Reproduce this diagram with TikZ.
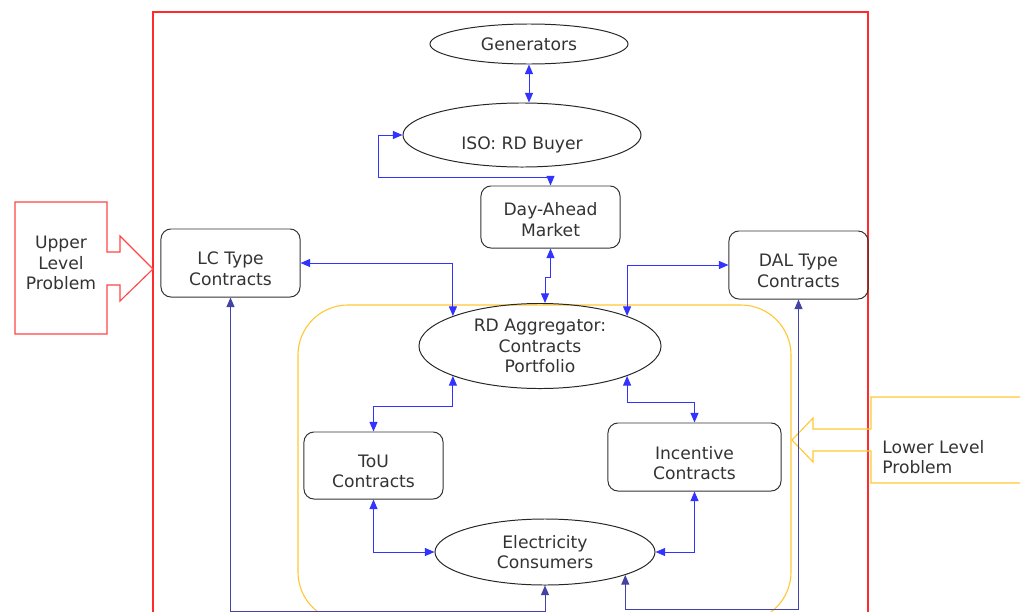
\documentclass[tikz,border=0pt]{standalone}
\usepackage{fontspec}
\setmainfont{DejaVu Sans}
\usetikzlibrary{shapes.geometric,arrows.meta}
\definecolor{linkblue}{HTML}{3333FF}
\definecolor{navyblue}{HTML}{4343A6}
\definecolor{framered}{HTML}{FF2A2A}
\definecolor{calloutred}{HTML}{FF4545}
\definecolor{lowyellow}{HTML}{FFC835}
\definecolor{textgray}{HTML}{333333}
\begin{document}
\begin{tikzpicture}[x=0.025cm,y=-0.025cm,
  every node/.style={font=\fontsize{12.2}{14.6}\selectfont,text=textgray,align=center,inner sep=0pt},
  oval/.style={ellipse,draw=black!85,line width=0.7pt},
  box/.style={rectangle,rounded corners=0.25cm,draw=black!80,line width=0.7pt,minimum width=3.475cm,minimum height=1.7cm},
  boxtext/.style={label={[yshift=-0.15cm]center:{#1}}},
  link/.style={draw=linkblue,line width=0.7pt,{Triangle[length=2.4mm,width=2mm]}-{Triangle[length=2.4mm,width=2mm]}},
  slink/.style={link,draw=navyblue}]
\useasboundingbox (0,0) rectangle (1020,612);
\clip (0,0) rectangle (1020,612);
\draw[framered,line width=0.8pt] (153,12) rectangle (868,640);
\draw[lowyellow,line width=0.8pt,rounded corners=1.25cm] (298,305) rectangle (791,622);
\draw[calloutred,line width=0.8pt] (15,202) -- (107,202) -- (107,252) -- (120,252) -- (120,236) -- (153,269) -- (120,301) -- (120,285) -- (107,285) -- (107,334) -- (15,334) -- cycle;
\node (upper) at (61,263) {Upper\\Level\\Problem};
\draw[lowyellow,line width=0.8pt] (1030,397) -- (871,397) -- (871,429) -- (813,429) -- (813,418) -- (792,440) -- (813,462) -- (813,451) -- (871,451) -- (871,483) -- (1030,483);
\node[anchor=west,align=left] (lower) at (882,457) {Lower Level\\Problem};
\node[oval,minimum width=4.95cm,minimum height=1cm] (gen) at (529,44) {Generators};
\node[oval,minimum width=5.95cm,minimum height=1.6cm,label={[yshift=-0.25cm]center:{ISO: RD Buyer}}] (iso) at (522,135) {};
\node[box,minimum height=1.55cm,label={[yshift=-0.06cm]center:{Day-Ahead\\Market}}] (dam) at (550.5,217) {};
\node[box,boxtext={LC Type\\Contracts}] (lc) at (230.5,263) {};
\node[box,boxtext={DAL Type\\Contracts}] (dal) at (798.5,265) {};
\node[oval,minimum width=6.05cm,minimum height=2.125cm] (agg) at (540,346) {RD Aggregator:\\Contracts\\Portfolio};
\node[box,minimum height=1.675cm,boxtext={ToU\\Contracts}] (tou) at (373.5,465.5) {};
\node[box,minimum width=4.325cm,boxtext={Incentive\\Contracts}] (inc) at (694.5,457) {};
\node[oval,minimum width=5.5cm,minimum height=1.65cm] (cons) at (545,552) {Electricity\\Consumers};
\coordinate (isobend) at (378,177);
\coordinate (damjog) at (545,277);
\coordinate (floor) at (0,611);
\coordinate (floorr) at (0,609);
\draw[link] (gen.south) -- (gen.south |- iso.north);
\draw[link] (iso.west) -| (isobend) -| (dam.north);
\draw[link] (dam.south) |- (damjog) -- (damjog |- agg.north);
\draw[link] (lc.east) -| (agg.161);
\draw[link] (dal.west) -| (agg.19);
\draw[link] (agg.199) -- ++(0,30) -| (tou.north);
\draw[link] (agg.341) -- ++(0,26) -| (inc.north);
\draw[link] (tou.south) |- (cons.west);
\draw[link] (inc.south) |- (cons.east);
\draw[slink] (lc.south) -- (lc.south |- floor) -| (cons.south);
\draw[slink] (dal.south) -- (dal.south |- floorr) -| (cons.344);
\end{tikzpicture}
\end{document}
